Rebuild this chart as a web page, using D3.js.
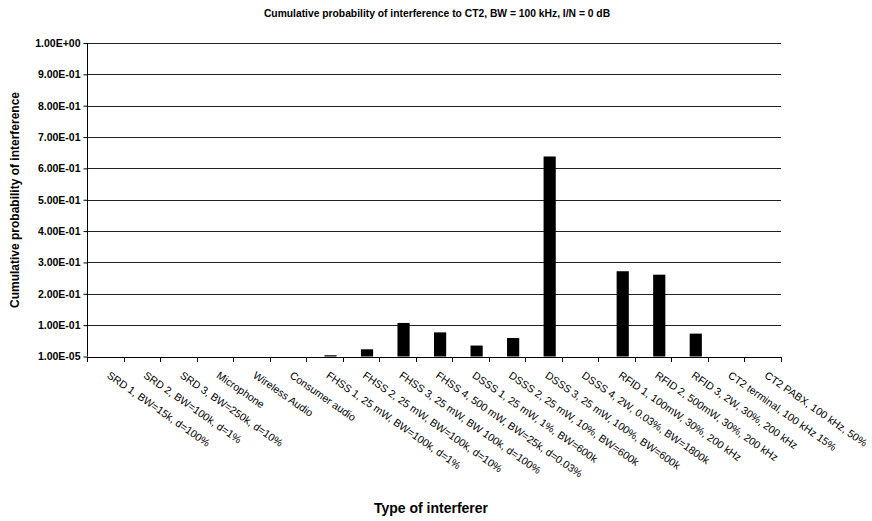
<!DOCTYPE html>
<html>
<head>
<meta charset="utf-8">
<script src="https://cdn.jsdelivr.net/npm/d3@7/dist/d3.min.js"></script>
<style>
  html, body { margin: 0; padding: 0; background: #fff; }
  svg { display: block; font-family: "Liberation Sans", Arial, sans-serif; }
</style>
</head>
<body>
<svg id="chart" width="872" height="521"></svg>
<script>
const categories = [
  "SRD 1, BW=15k, d=100%",
  "SRD 2, BW=100k, d=1%",
  "SRD 3, BW=250k, d=10%",
  "Microphone",
  "Wireless Audio",
  "Consumer audio",
  "FHSS 1, 25 mW, BW=100k, d=1%",
  "FHSS 2, 25 mW, BW=100k, d=10%",
  "FHSS 3, 25 mW, BW 100k, d=100%",
  "FHSS 4, 500 mW, BW=25k, d=0.03%",
  "DSSS 1, 25 mW, 1%, BW=600k",
  "DSSS 2, 25 mW, 10%, BW=600k",
  "DSSS 3, 25 mW, 100%, BW=600k",
  "DSSS 4, 2W, 0.03%, BW=1800k",
  "RFID 1, 100mW, 30%, 200 kHz",
  "RFID 2, 500mW, 30%, 200 kHz",
  "RFID 3, 2W, 30%, 200 kHz",
  "CT2 terminal, 100 kHz 15%",
  "CT2 PABX, 100 kHz, 50%"
];
const probability = [0, 0, 0, 0, 0, 0, 0.004, 0.023, 0.107, 0.077, 0.035, 0.059, 0.638, 0, 0.272, 0.261, 0.073, 0, 0];
const yTickValues = [0.00001, 0.1, 0.2, 0.3, 0.4, 0.5, 0.6, 0.7, 0.8, 0.9, 1.0];
const yTickLabels = ["1.00E-05", "1.00E-01", "2.00E-01", "3.00E-01", "4.00E-01", "5.00E-01", "6.00E-01", "7.00E-01", "8.00E-01", "9.00E-01", "1.00E+00"];
const titleText = "Cumulative probability of interference to CT2, BW = 100 kHz, I/N = 0 dB";
const xTitle = "Type of interferer";
const yTitle = "Cumulative probability of interference";

const svg = d3.select("#chart");
const L = 87, R = 781, T = 43, B = 356.5;

const x = d3.scaleBand().domain(categories).range([L, R]).padding(0);
const y = d3.scaleLinear().domain([0.00001, 1]).range([B, T]);
const bw = x.bandwidth();

// gridlines
svg.append("g").selectAll("line")
  .data(yTickValues.slice(1))
  .join("line")
  .attr("x1", L).attr("x2", R)
  .attr("y1", d => Math.round(y(d)) + 0.5).attr("y2", d => Math.round(y(d)) + 0.5)
  .attr("stroke", "#222").attr("stroke-width", 1);

// bars (second series of a two-slot cluster)
svg.append("g").selectAll("rect")
  .data(categories.map((c, i) => ({c, v: probability[i]})).filter(d => d.v > 0))
  .join("rect")
  .attr("x", d => x(d.c) + bw / 2)
  .attr("width", bw / 3)
  .attr("y", d => y(d.v))
  .attr("height", d => y(0.00001) - y(d.v))
  .attr("fill", "#000");

// y axis
const yAxis = d3.axisLeft(y)
  .tickValues(yTickValues)
  .tickFormat((d, i) => yTickLabels[i])
  .tickSize(4).tickPadding(3);
const gy = svg.append("g").attr("transform", `translate(${L + 0.5},0)`).call(yAxis);
gy.select(".domain").attr("d", `M0,${T}V${B}`).attr("stroke", "#000");
gy.selectAll(".tick line").attr("stroke", "#000");
gy.selectAll(".tick text")
  .attr("font-size", 10.5).attr("font-weight", "bold")
  .attr("font-family", "Liberation Sans, Arial, sans-serif").attr("fill", "#000");

// x axis line and boundary ticks
svg.append("line").attr("x1", L).attr("x2", R + 0.5)
  .attr("y1", Math.round(B) + 0.5).attr("y2", Math.round(B) + 0.5).attr("stroke", "#000");
svg.append("g").selectAll("line")
  .data(categories.map((c, i) => i).concat([categories.length]))
  .join("line")
  .attr("x1", i => Math.round(L + i * bw) + 0.5).attr("x2", i => Math.round(L + i * bw) + 0.5)
  .attr("y1", Math.round(B)).attr("y2", Math.round(B) + 5)
  .attr("stroke", "#000");

// x labels
svg.append("g").selectAll("text")
  .data(categories)
  .join("text")
  .attr("transform", d => `translate(${x(d) + bw / 2 + 1},377) rotate(35)`)
  .attr("text-anchor", "start")
  .attr("font-size", 10.6)
  .attr("fill", "#000")
  .text(d => d);

// titles
svg.append("text").attr("x", 437).attr("y", 17).attr("text-anchor", "middle")
  .attr("font-size", 10.3).attr("font-weight", "bold").text(titleText);
svg.append("text").attr("x", 431).attr("y", 513).attr("text-anchor", "middle")
  .attr("font-size", 14).attr("font-weight", "bold").text(xTitle);
svg.append("text").attr("transform", `translate(19,200) rotate(-90)`).attr("text-anchor", "middle")
  .attr("font-size", 12).attr("font-weight", "bold").text(yTitle);
</script>
</body>
</html>
